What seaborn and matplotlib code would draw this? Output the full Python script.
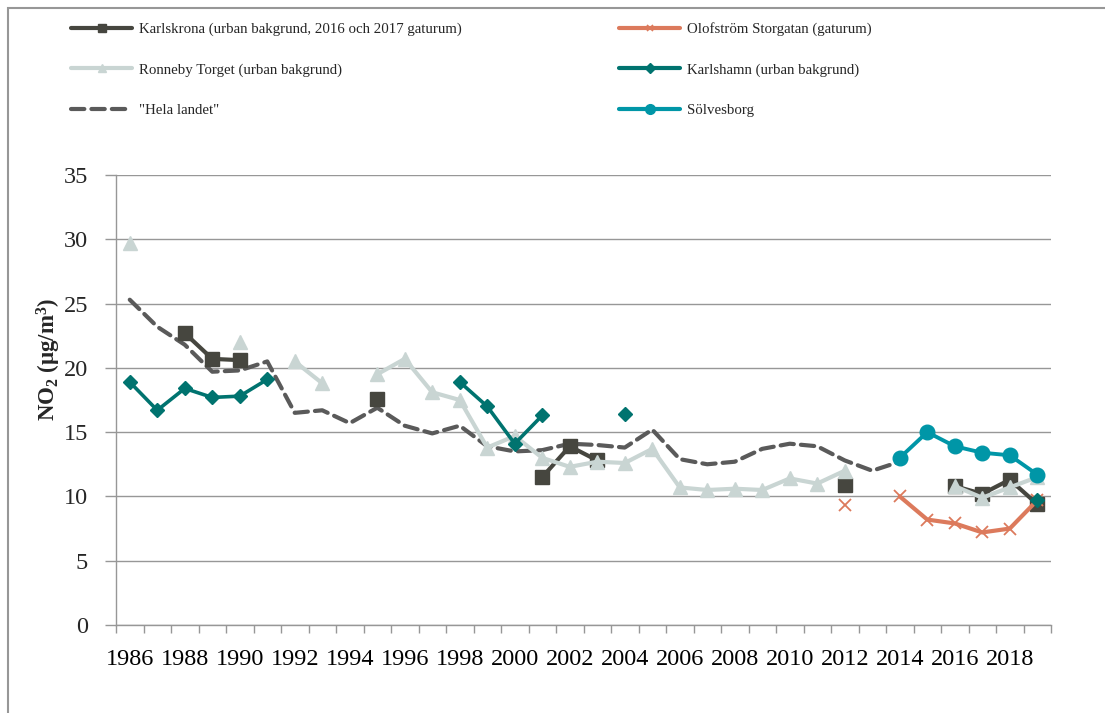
import numpy as np
import pandas as pd
import matplotlib
matplotlib.use("Agg")
import matplotlib.pyplot as plt
import seaborn as sns
from matplotlib.lines import Line2D
from matplotlib.patches import Rectangle

# ---------------- data ----------------
karlskrona_years = [1988, 1989, 1990, 1995, 2001, 2002, 2003, 2012, 2016, 2017, 2018, 2019]
karlskrona_vals = [22.7, 20.7, 20.6, 17.6, 11.5, 13.9, 12.8, 10.9, 10.8, 10.2, 11.3, 9.4]

ronneby_years = [1986, 1990, 1992, 1993, 1995, 1996, 1997, 1998, 1999, 2000, 2001, 2002, 2003,
                 2004, 2005, 2006, 2007, 2008, 2009, 2010, 2011, 2012, 2016, 2017, 2018, 2019]
ronneby_vals = [29.7, 22.0, 20.5, 18.8, 19.5, 20.7, 18.1, 17.5, 13.8, 14.7, 13.0, 12.3, 12.7,
                12.6, 13.7, 10.7, 10.5, 10.6, 10.5, 11.4, 11.0, 12.0, 10.8, 9.9, 10.7, 11.5]

hela_years = list(range(1986, 2015))
hela_vals = [25.3, 23.2, 21.8, 19.7, 19.8, 20.5, 16.5, 16.7, 15.7, 16.9, 15.5, 14.9, 15.5,
             13.9, 13.5, 13.6, 14.1, 14.0, 13.8, 15.2, 12.9, 12.5, 12.7, 13.7, 14.1, 13.9,
             12.8, 12.0, 12.7]

olof_years = [2012, 2014, 2015, 2016, 2017, 2018, 2019]
olof_vals = [9.3, 10.0, 8.2, 7.9, 7.2, 7.5, 9.7]

karlshamn_years = [1986, 1987, 1988, 1989, 1990, 1991, 1998, 1999, 2000, 2001, 2004, 2019]
karlshamn_vals = [18.9, 16.7, 18.4, 17.7, 17.8, 19.1, 18.9, 17.0, 14.1, 16.3, 16.4, 9.7]

solv_years = [2014, 2015, 2016, 2017, 2018, 2019]
solv_vals = [13.0, 15.0, 13.9, 13.4, 13.2, 11.7]

labels = ["Karlskrona (urban bakgrund, 2016 och 2017 gaturum)",
          "Olofström Storgatan (gaturum)",
          "Ronneby Torget (urban bakgrund)",
          "Karlshamn (urban bakgrund)",
          "\"Hela landet\"",
          "Sölvesborg"]
year_ticks = list(range(1986, 2020, 2))
y_ticks = [0, 5, 10, 15, 20, 25, 30, 35]


def frame(years, vals):
    df = pd.DataFrame({"year": years, "value": vals})
    df["seg"] = (df["year"].diff().fillna(1) != 1).cumsum()
    return df


# ---------------- style ----------------
sns.set_theme(style="white")
plt.rcParams["font.family"] = ["Liberation Serif", "DejaVu Serif"]
plt.rcParams["mathtext.fontset"] = "custom"
plt.rcParams["mathtext.rm"] = "Liberation Serif"
plt.rcParams["mathtext.bf"] = "Liberation Serif:bold"

C_KK = "#46463f"
C_RON = "#c9d5d3"
C_HELA = "#5a5a5a"
C_OLOF = "#dc7a5c"
C_KH = "#00736f"
C_SOLV = "#0096a7"
GRID = "#979797"

fig = plt.figure(figsize=(11.05, 7.13), dpi=100)
ax = fig.add_axes([116 / 1105, 1 - 625 / 713, 935 / 1105, 450 / 713])

# Hela landet (dashed)
sns.lineplot(data=frame(hela_years, hela_vals), x="year", y="value", units="seg",
             estimator=None, color=C_HELA, lw=3.0, legend=False, ax=ax, zorder=2)
hela_line = ax.lines[-1]
hela_line.set_dashes((3.2, 1.7))
hela_line.set_dash_capstyle("round")

series = [
    (karlskrona_years, karlskrona_vals, C_KK, "s", 10, 3.0, 1, 3),
    (olof_years, olof_vals, C_OLOF, "x", 9, 3.0, 1.3, 4),
    (ronneby_years, ronneby_vals, C_RON, "^", 10, 3.0, 1, 5),
    (karlshamn_years, karlshamn_vals, C_KH, "D", 7.5, 2.6, 1, 6),
    (solv_years, solv_vals, C_SOLV, "o", 10.5, 2.8, 1, 7),
]
for yrs, vals, col, mk, ms, lw, mew, z in series:
    sns.lineplot(data=frame(yrs, vals), x="year", y="value", units="seg", estimator=None,
                 color=col, marker=mk, markersize=ms, lw=lw, markeredgewidth=mew,
                 markeredgecolor=col, markerfacecolor=col, legend=False, ax=ax, zorder=z)

# ---------------- axes ----------------
ax.set_xlim(1985.5, 2019.5)
ax.set_ylim(0, 35)
ax.set_xticks(year_ticks)
ax.set_xticklabels([str(y) for y in year_ticks])
ax.set_xticks(np.arange(1985.5, 2020, 1), minor=True)
ax.set_yticks(y_ticks)
ax.tick_params(axis="x", which="major", length=0, pad=17, labelsize=17.5, colors="black")
ax.tick_params(axis="x", which="minor", length=6, width=1, color=GRID, bottom=True)
ax.tick_params(axis="y", length=8, width=1, color=GRID, pad=12, labelsize=17.5, left=True)
ax.yaxis.grid(True, color=GRID, lw=1)
ax.xaxis.grid(False)
for s in ["top", "right"]:
    ax.spines[s].set_visible(False)
for s in ["left", "bottom"]:
    ax.spines[s].set_color(GRID)
    ax.spines[s].set_linewidth(1)
ax.set_xlabel("")
ax.set_ylabel(r"$\mathbf{NO_2}$ $\mathbf{(\mu g/m^3)}$", fontsize=16.5, fontweight="bold")
ax.yaxis.set_label_coords(-0.057, 0.59)

# ---------------- legend ----------------
h_kk = Line2D([], [], color=C_KK, lw=3, marker="s", ms=6)
h_ron = Line2D([], [], color=C_RON, lw=3, marker="^", ms=6)
h_hela = Line2D([], [], color=C_HELA, lw=3, dashes=(3.2, 1.7), dash_capstyle="round")
h_olof = Line2D([], [], color=C_OLOF, lw=3, marker="x", ms=5, mew=1.2)
h_kh = Line2D([], [], color=C_KH, lw=3, marker="D", ms=5)
h_solv = Line2D([], [], color=C_SOLV, lw=3, marker="o", ms=7)
fig.legend([h_kk, h_ron, h_hela, h_olof, h_kh, h_solv],
           [labels[0], labels[2], labels[4], labels[1], labels[3], labels[5]],
           ncol=2, loc="upper left", bbox_to_anchor=(58 / 1105, 1 - 9 / 713),
           frameon=False, fontsize=10.7, handlelength=4.1, handletextpad=0.45,
           columnspacing=10.6, labelspacing=1.8)

# outer border
fig.patches.append(Rectangle((8 / 1105, -0.1), 1.2, 1.1 - 8 / 713, transform=fig.transFigure,
                             fill=False, edgecolor=GRID, lw=1.5))

fig.savefig("out.png", dpi=100)
